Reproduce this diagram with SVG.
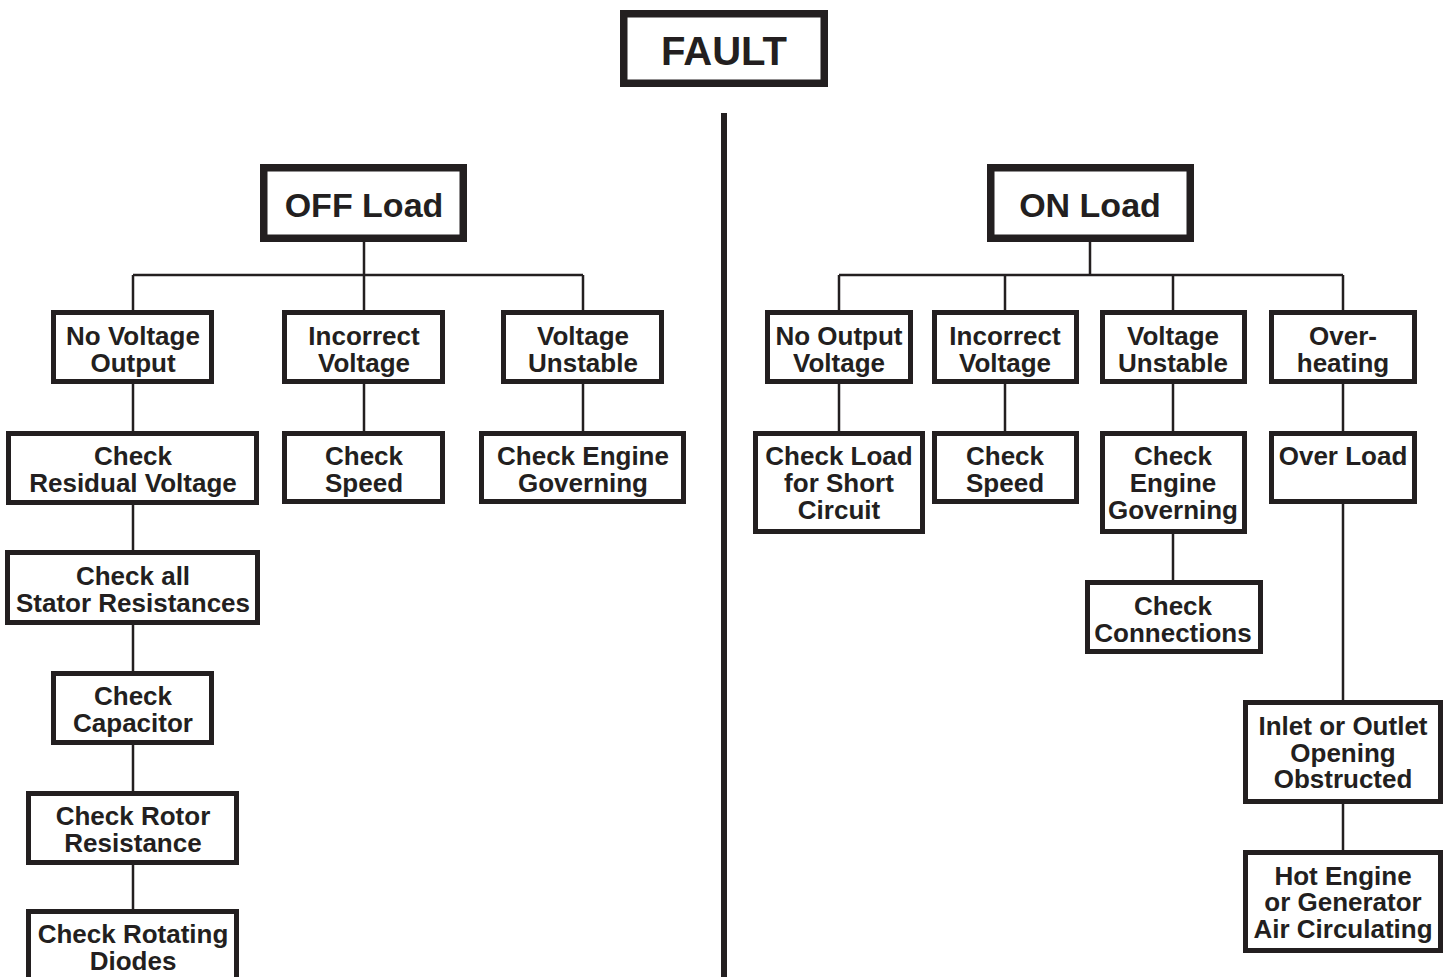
<svg xmlns="http://www.w3.org/2000/svg" width="1448" height="977" viewBox="0 0 1448 977">
<style>
.b{fill:#fff;stroke:#231f20;stroke-width:5}
.bb{fill:#fff;stroke:#231f20;stroke-width:7.5}
text{font-family:"Liberation Sans",Arial,sans-serif;font-weight:bold;fill:#231f20;text-anchor:middle}
.t{font-size:26px}
.c{stroke:#231f20;stroke-width:2.5;fill:none}
</style>
<rect width="1448" height="977" fill="#fff"/>
<g id="connectors">
<line x1="724" y1="113" x2="724" y2="977" stroke="#231f20" stroke-width="6"/>
<path class="c" d="M364 242V275M133 275H583M133 275V310M364 275V310M583 275V310M133 384V431M133 505V550M133 625V671M133 745V791M133 865V909M364 384V431M583 384V431"/>
<path class="c" d="M1090 242V275M839 275H1343M839 275V310M1005 275V310M1173 275V310M1343 275V310M839 384V431M1005 384V431M1173 384V431M1173 534V580M1343 384V431M1343 504V700M1343 804V850"/>
</g>
<g id="fault"><rect class="bb" x="623.75" y="13.75" width="200.5" height="69.5"/><text x="724" y="65" font-size="40">FAULT</text></g>
<g id="off-load"><rect class="bb" x="263.75" y="167.75" width="199.5" height="70.5"/><text x="364" y="217" font-size="34">OFF Load</text></g>
<g id="on-load"><rect class="bb" x="990.75" y="167.75" width="199.5" height="70.5"/><text x="1090" y="217" font-size="34">ON Load</text></g>

<g id="no-voltage-output"><rect class="b" x="53.5" y="312.5" width="158" height="69"/><text class="t" x="133" y="345">No Voltage</text><text class="t" x="133" y="372">Output</text></g>
<g id="incorrect-voltage-off"><rect class="b" x="284.5" y="312.5" width="158" height="69"/><text class="t" x="364" y="345">Incorrect</text><text class="t" x="364" y="372">Voltage</text></g>
<g id="voltage-unstable-off"><rect class="b" x="503.5" y="312.5" width="158" height="69"/><text class="t" x="583" y="345">Voltage</text><text class="t" x="583" y="372">Unstable</text></g>

<g id="check-residual"><rect class="b" x="8.5" y="433.5" width="248" height="69"/><text class="t" x="133" y="465">Check</text><text class="t" x="133" y="492">Residual Voltage</text></g>
<g id="check-speed-off"><rect class="b" x="284.5" y="433.5" width="158" height="68"/><text class="t" x="364" y="465">Check</text><text class="t" x="364" y="492">Speed</text></g>
<g id="check-engine-off"><rect class="b" x="481.5" y="433.5" width="202" height="68"/><text class="t" x="583" y="465">Check Engine</text><text class="t" x="583" y="492">Governing</text></g>

<g id="check-stator"><rect class="b" x="7.5" y="552.5" width="250" height="70"/><text class="t" x="133" y="585">Check all</text><text class="t" x="133" y="612">Stator Resistances</text></g>
<g id="check-capacitor"><rect class="b" x="53.5" y="673.5" width="158" height="69"/><text class="t" x="133" y="705">Check</text><text class="t" x="133" y="732">Capacitor</text></g>
<g id="check-rotor"><rect class="b" x="28.5" y="793.5" width="208" height="69"/><text class="t" x="133" y="825">Check Rotor</text><text class="t" x="133" y="852">Resistance</text></g>
<g id="check-diodes"><rect class="b" x="28.5" y="911.5" width="208" height="80"/><text class="t" x="133" y="943">Check Rotating</text><text class="t" x="133" y="970">Diodes</text></g>

<g id="no-output-voltage"><rect class="b" x="767.5" y="312.5" width="143" height="69"/><text class="t" x="839" y="345">No Output</text><text class="t" x="839" y="372">Voltage</text></g>
<g id="incorrect-voltage-on"><rect class="b" x="934.5" y="312.5" width="142" height="69"/><text class="t" x="1005" y="345">Incorrect</text><text class="t" x="1005" y="372">Voltage</text></g>
<g id="voltage-unstable-on"><rect class="b" x="1102.5" y="312.5" width="142" height="69"/><text class="t" x="1173" y="345">Voltage</text><text class="t" x="1173" y="372">Unstable</text></g>
<g id="over-heating"><rect class="b" x="1271.5" y="312.5" width="143" height="69"/><text class="t" x="1343" y="345">Over-</text><text class="t" x="1343" y="372">heating</text></g>

<g id="check-load-short"><rect class="b" x="755.5" y="433.5" width="167" height="98"/><text class="t" x="839" y="465">Check Load</text><text class="t" x="839" y="492">for Short</text><text class="t" x="839" y="519">Circuit</text></g>
<g id="check-speed-on"><rect class="b" x="934.5" y="433.5" width="142" height="68"/><text class="t" x="1005" y="465">Check</text><text class="t" x="1005" y="492">Speed</text></g>
<g id="check-engine-on"><rect class="b" x="1102.5" y="433.5" width="142" height="98"/><text class="t" x="1173" y="465">Check</text><text class="t" x="1173" y="492">Engine</text><text class="t" x="1173" y="519">Governing</text></g>
<g id="over-load"><rect class="b" x="1271.5" y="433.5" width="143" height="68"/><text class="t" x="1343" y="465">Over Load</text></g>
<g id="check-connections"><rect class="b" x="1087.5" y="582.5" width="173" height="69"/><text class="t" x="1173" y="615">Check</text><text class="t" x="1173" y="642">Connections</text></g>
<g id="inlet-outlet"><rect class="b" x="1245.5" y="702.5" width="195" height="99"/><text class="t" x="1343" y="735">Inlet or Outlet</text><text class="t" x="1343" y="762">Opening</text><text class="t" x="1343" y="788">Obstructed</text></g>
<g id="hot-engine"><rect class="b" x="1245.5" y="852.5" width="195" height="98"/><text class="t" x="1343" y="885">Hot Engine</text><text class="t" x="1343" y="911">or Generator</text><text class="t" x="1343" y="938">Air Circulating</text></g>
</svg>
